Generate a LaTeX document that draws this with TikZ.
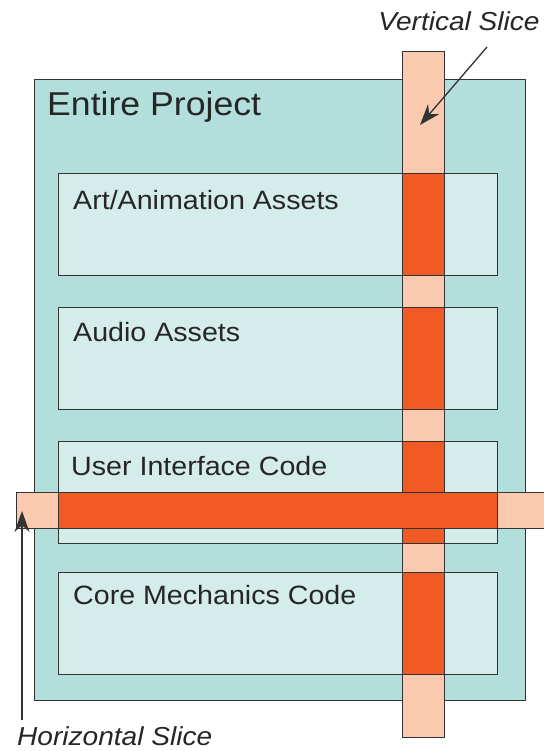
\documentclass[tikz,border=0pt]{standalone}
\usepackage{fontspec}
\setmainfont[FakeStretch=1.08]{Liberation Sans}
\usetikzlibrary{arrows.meta}

\definecolor{projectfill}{HTML}{B2DFDB}
\definecolor{partfill}{HTML}{D4ECEA}
\definecolor{slicelight}{HTML}{FCCBAF}
\definecolor{slicedark}{HTML}{F15A24}
\definecolor{edge}{HTML}{333333}

\tikzset{
    box/.style={draw=edge, line width=1.4pt, anchor=north west, inner sep=0pt},
    part/.style={box, fill=partfill, minimum width=439pt, minimum height=102pt},
    partlabel/.style={anchor=base west, inner sep=0pt, font=\fontsize{26.5}{30}\selectfont, text=black!85},
    slicelabel/.style={inner sep=0pt, font=\fontsize{26}{30}\selectfont\itshape, text=black!85},
    pointer/.style={draw=black!80, line width=1.3pt, -{Stealth[length=21pt, width=15pt]}}
}

\begin{document}
\begin{tikzpicture}[x=1pt, y=-1pt]

    \useasboundingbox (0,0) rectangle (543,751);

    % Entire project
    \node[box, fill=projectfill, minimum width=491pt, minimum height=621pt] (project) at (34,79) {};
    \node[partlabel, font=\fontsize{33}{40}\selectfont] (projectlabel) at (47,116) {Entire Project};

    % Parts of the project
    \node[part] (art) at (58,173) {};
    \node[partlabel] (artlabel) at (73,209) {Art/Animation Assets};

    \node[part] (audio) at (58,307) {};
    \node[partlabel] (audiolabel) at (73,341) {Audio Assets};

    \node[part] (ui) at (58,441) {};
    \node[partlabel] (uilabel) at (71,475) {User Interface Code};

    \node[part] (core) at (58,572) {};
    \node[partlabel] (corelabel) at (73,604) {Core Mechanics Code};

    % Vertical slice
    \node[box, fill=slicelight, minimum width=42pt, minimum height=686pt] (vslice) at (402,51) {};
    \foreach \p in {art, audio, ui, core} {
        \node[box, fill=slicedark, minimum width=42pt, minimum height=102pt]
            (v\p) at (\p.north west -| vslice.north west) {};
    }

    % Horizontal slice
    \node[box, fill=slicelight, minimum width=540pt, minimum height=36pt] (hslice) at (16,492) {};
    \node[box, fill=slicedark, minimum width=439pt, minimum height=36pt] (hcore) at (58,492) {};

    % Labels and arrows
    \node[slicelabel, anchor=base] (vlabel) at (459,31) {Vertical Slice};
    \coordinate (vstart) at (487,47);
    \coordinate (vtip) at (420,125);
    \draw[pointer] (vstart) -- (vtip);

    \node[slicelabel, anchor=base west] (hlabel) at (17,745) {Horizontal Slice};
    \coordinate (hstart) at (22,720);
    \coordinate (htip) at (22,511);
    \draw[pointer] (hstart) -- (htip);

\end{tikzpicture}
\end{document}
